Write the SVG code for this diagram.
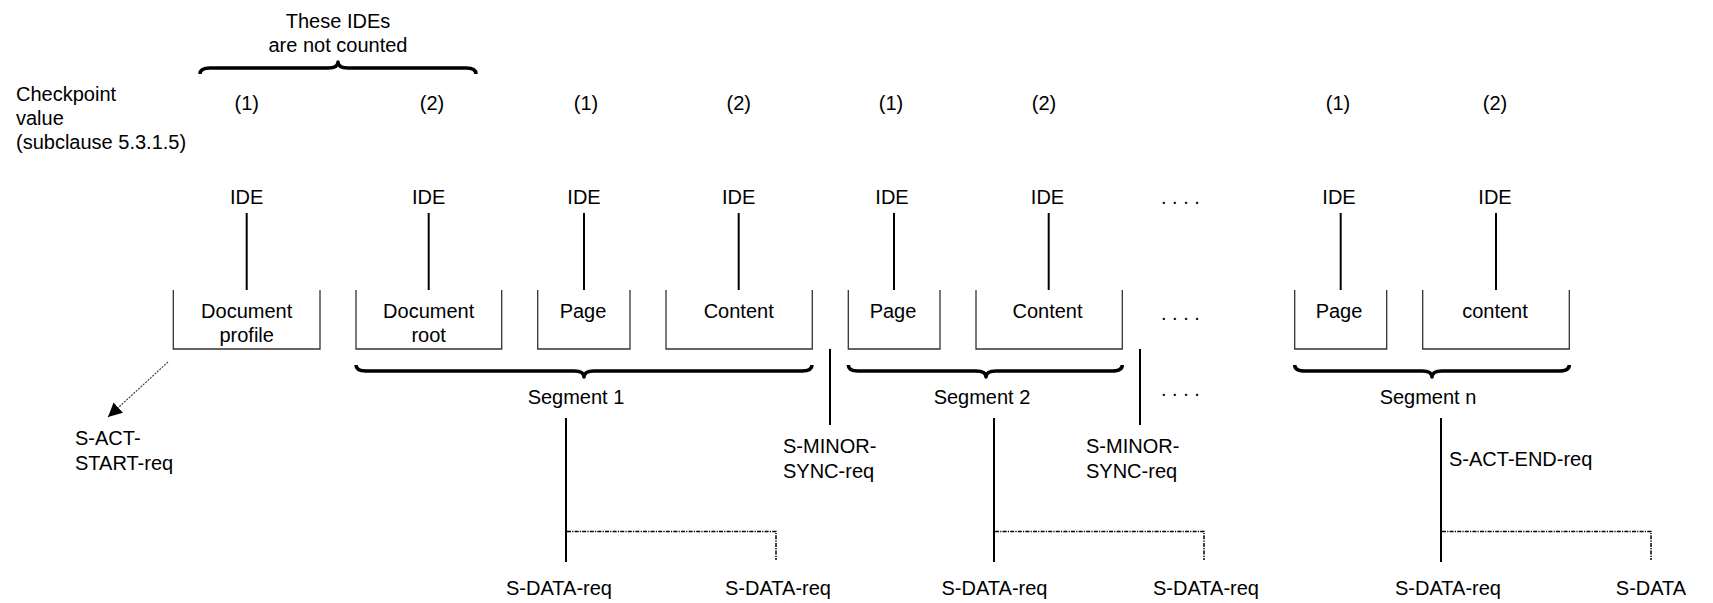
<svg xmlns="http://www.w3.org/2000/svg" width="1713" height="603" viewBox="0 0 1713 603">
<defs>
<style>
text{font-family:"Liberation Sans",Arial,sans-serif;font-size:20px;fill:#000}
.c{text-anchor:middle}
.box{fill:none;stroke:#333;stroke-width:1.3}
.ln{stroke:#000;stroke-width:2;fill:none}
.brace{stroke:#000;stroke-width:3.5;fill:none;stroke-linejoin:round}
.dot{stroke:#000;stroke-width:1.5;fill:none;stroke-dasharray:4 1.2 1.2 1.2}
.arr{stroke:#444;stroke-width:1.2;fill:none;stroke-dasharray:2 1.2}
</style>
<marker id="ah" viewBox="0 0 10 10" refX="10" refY="5" markerWidth="14" markerHeight="14" markerUnits="userSpaceOnUse" orient="auto">
<path d="M0,0 L10,5 L0,10 Z" fill="#000"/>
</marker>
</defs>
<rect width="1713" height="603" fill="#fff"/>

<g id="header">
<text x="16" y="101">Checkpoint</text>
<text x="16" y="125">value</text>
<text x="16" y="149">(subclause 5.3.1.5)</text>
<text class="c" x="338" y="28">These IDEs</text>
<text class="c" x="338" y="52">are not counted</text>
<path class="brace" d="M200,74 Q200,68 210,68 L328,68 Q338,68 338,62 Q338,68 348,68 L466,68 Q476,68 476,74"/>
<text class="c" x="246.7" y="110">(1)</text>
<text class="c" x="432" y="110">(2)</text>
<text class="c" x="586" y="110">(1)</text>
<text class="c" x="738.7" y="110">(2)</text>
<text class="c" x="891" y="110">(1)</text>
<text class="c" x="1044" y="110">(2)</text>
<text class="c" x="1338" y="110">(1)</text>
<text class="c" x="1495" y="110">(2)</text>
<text x="1161" y="204">. . . .</text>
<text x="1161" y="320">. . . .</text>
<text x="1161" y="396">. . . .</text>
</g>

<g id="n-docprofile">
<text class="c" x="246.7" y="204">IDE</text>
<path class="box" d="M173.3,290 V349 H320 V290"/>
<text class="c" x="246.7" y="318">Document</text>
<text class="c" x="246.7" y="342">profile</text>
</g>
<g id="n-docroot">
<text class="c" x="428.7" y="204">IDE</text>
<path class="box" d="M356,290 V349 H501.7 V290"/>
<text class="c" x="428.7" y="318">Document</text>
<text class="c" x="428.7" y="342">root</text>
</g>
<g id="n-page1">
<text class="c" x="584" y="204">IDE</text>
<path class="box" d="M537.7,290 V349 H630 V290"/>
<text class="c" x="583" y="318">Page</text>
</g>
<g id="n-content1">
<text class="c" x="738.7" y="204">IDE</text>
<path class="box" d="M666,290 V349 H812.3 V290"/>
<text class="c" x="738.7" y="318">Content</text>
</g>
<g id="n-page2">
<text class="c" x="892" y="204">IDE</text>
<path class="box" d="M848.3,290 V349 H940 V290"/>
<text class="c" x="893" y="318">Page</text>
</g>
<g id="n-content2">
<text class="c" x="1047.5" y="204">IDE</text>
<path class="box" d="M976,290 V349 H1122.3 V290"/>
<text class="c" x="1047.5" y="318">Content</text>
</g>
<g id="n-page3">
<text class="c" x="1339" y="204">IDE</text>
<path class="box" d="M1294.7,290 V349 H1386.7 V290"/>
<text class="c" x="1339" y="318">Page</text>
</g>
<g id="n-content3">
<text class="c" x="1495" y="204">IDE</text>
<path class="box" d="M1422.7,290 V349 H1569.3 V290"/>
<text class="c" x="1495" y="318">content</text>
</g>

<g id="segments">
<path class="brace" d="M356,365 Q356,371 366,371 L574,371 Q584,371 584,377 Q584,371 594,371 L802,371 Q812,371 812,365"/>
<text class="c" x="576" y="404">Segment 1</text>
<path class="brace" d="M848.3,365 Q848.3,371 858,371 L976,371 Q986,371 986,377 Q986,371 996,371 L1112,371 Q1122.3,371 1122.3,365"/>
<text class="c" x="982" y="404">Segment 2</text>
<path class="brace" d="M1294.7,365 Q1294.7,371 1305,371 L1422,371 Q1432,371 1432,377 Q1432,371 1442,371 L1559,371 Q1569.3,371 1569.3,365"/>
<text class="c" x="1428" y="404">Segment n</text>
</g>

<g id="primitives">
<text x="75" y="445">S-ACT-</text>
<text x="75" y="470">START-req</text>
<text x="783" y="453">S-MINOR-</text>
<text x="783" y="478">SYNC-req</text>
<text x="1086" y="453">S-MINOR-</text>
<text x="1086" y="478">SYNC-req</text>
<text x="1449" y="466">S-ACT-END-req</text>
<text class="c" x="559" y="595">S-DATA-req</text>
<text class="c" x="778" y="595">S-DATA-req</text>
<text class="c" x="994.5" y="595">S-DATA-req</text>
<text class="c" x="1206" y="595">S-DATA-req</text>
<text class="c" x="1448" y="595">S-DATA-req</text>
<text class="c" x="1651" y="595">S-DATA</text>
</g>

<g id="connectors">
<line class="ln" x1="246.7" y1="213" x2="246.7" y2="290"/>
<line class="ln" x1="428.7" y1="213" x2="428.7" y2="290"/>
<line class="ln" x1="584" y1="213" x2="584" y2="290"/>
<line class="ln" x1="738.7" y1="213" x2="738.7" y2="290"/>
<line class="ln" x1="894" y1="213" x2="894" y2="290"/>
<line class="ln" x1="1048.7" y1="213" x2="1048.7" y2="290"/>
<line class="ln" x1="1340.7" y1="213" x2="1340.7" y2="290"/>
<line class="ln" x1="1496" y1="213" x2="1496" y2="290"/>
<line class="ln" x1="830" y1="349" x2="830" y2="425"/>
<line class="ln" x1="1140" y1="349" x2="1140" y2="425"/>
<line class="ln" x1="566" y1="418" x2="566" y2="562"/>
<line class="ln" x1="994" y1="418" x2="994" y2="562"/>
<line class="ln" x1="1441" y1="418" x2="1441" y2="562"/>
<path class="dot" d="M567,531.5 H776 V560"/>
<path class="dot" d="M995,531.5 H1204 V560"/>
<path class="dot" d="M1442,531.5 H1651 V560"/>
<line class="arr" x1="168" y1="362" x2="108" y2="417" marker-end="url(#ah)"/>
</g>
</svg>
